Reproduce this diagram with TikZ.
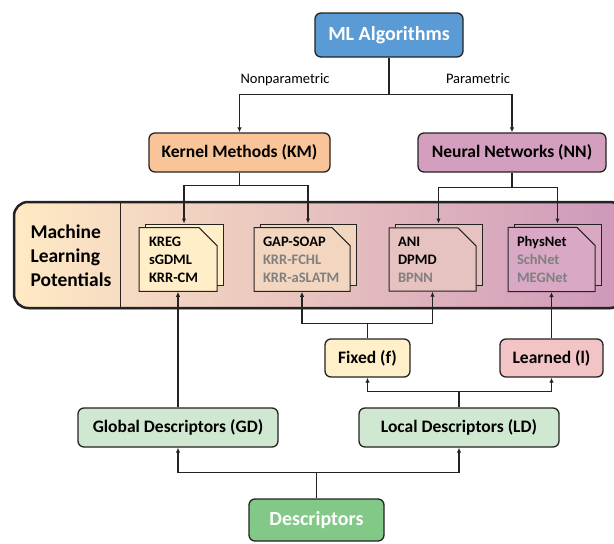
\documentclass[tikz,border=0pt]{standalone}
\usepackage{fontspec}
\setmainfont{Carlito}
\usetikzlibrary{shapes.misc,arrows.meta,shadows}

\definecolor{algblue}{RGB}{91,155,213}
\definecolor{kmorange}{RGB}{249,197,152}
\definecolor{nnpurple}{RGB}{212,158,190}
\definecolor{mlpleft}{RGB}{255,234,196}
\definecolor{mlpmid}{RGB}{238,208,192}
\definecolor{mlpright}{RGB}{206,152,186}
\definecolor{kregcol}{RGB}{255,238,200}
\definecolor{gapcol}{RGB}{242,214,192}
\definecolor{anicol}{RGB}{230,194,192}
\definecolor{physcol}{RGB}{216,168,196}
\definecolor{fixedcol}{RGB}{255,240,202}
\definecolor{learnedcol}{RGB}{242,196,198}
\definecolor{desclight}{RGB}{208,232,210}
\definecolor{descgreen}{RGB}{130,200,135}
\definecolor{edgecol}{RGB}{35,35,35}
\definecolor{greytext}{RGB}{128,128,128}

\begin{document}
\begin{tikzpicture}[x=1pt,y=-1pt,
  box/.style={draw=edgecol, line width=1.3pt, rounded corners=6pt, inner sep=0pt, font=\bfseries\fontsize{17.5}{20}\selectfont},
  bigbox/.style={box, text=white, font=\bfseries\fontsize{20}{24}\selectfont},
  doc/.style={chamfered rectangle, chamfered rectangle corners=north east, chamfered rectangle xsep=9pt, chamfered rectangle ysep=9pt, draw=edgecol, line width=1pt, inner sep=0pt, align=left, minimum height=61pt, font=\bfseries\fontsize{14.5}{18}\selectfont},
  arr/.style={-{Latex[length=5pt,width=4.5pt]}, line width=1.3pt, draw=edgecol},
  lbl/.style={font=\fontsize{14.5}{17}\selectfont}]
\useasboundingbox (0,0) rectangle (614,544);

% top of the tree
\node[bigbox, fill=algblue, minimum width=148pt, minimum height=44pt] (ml) at (389,35) {ML Algorithms};
\node[box, fill=kmorange, minimum width=181pt, minimum height=39pt] (km) at (239.5,152.5) {Kernel Methods (KM)};
\node[box, fill=nnpurple, minimum width=188pt, minimum height=39pt] (nn) at (512,152.5) {Neural Networks (NN)};
\node[lbl] (nonpar) at (285,80) {Nonparametric};
\node[lbl] (par) at (478,79) {Parametric};

% machine learning potentials band
\node[draw=edgecol, line width=2.5pt, rounded corners=14pt, left color=mlpleft, middle color=mlpmid, right color=mlpright,
  drop shadow={opacity=0.35, shadow xshift=1.5pt, shadow yshift=-1.5pt}, minimum width=610pt, minimum height=106pt] (mlp) at (319,255) {};
\draw[edgecol, line width=1.3pt] ([xshift=108pt]mlp.north west) -- ([xshift=108pt]mlp.south west);
\node[anchor=west, align=left, font=\bfseries\fontsize{19.5}{24}\selectfont] (mlptext) at (27,256) {Machine\\Learning\\Potentials};

\node[doc, fill=kregcol, minimum width=78pt] (kregb) at (184,254.5) {};
\node[doc, fill=kregcol, minimum width=78pt, text width=58pt] (kreg) at (178,259.5) {KREG\\sGDML\\KRR-CM};
\node[doc, fill=gapcol, minimum width=96pt] (gapb) at (308,254.5) {};
\node[doc, fill=gapcol, minimum width=96pt, text width=78pt] (gap) at (302,259.5) {GAP-SOAP\\{\color{greytext}KRR-FCHL}\\{\color{greytext}KRR-aSLATM}};
\node[doc, fill=anicol, minimum width=87pt] (anib) at (438.5,254.5) {};
\node[doc, fill=anicol, minimum width=87pt, text width=69pt] (ani) at (432.5,259.5) {ANI\\DPMD\\{\color{greytext}BPNN}};
\node[doc, fill=physcol, minimum width=87pt] (physb) at (557.5,254.5) {};
\node[doc, fill=physcol, minimum width=87pt, text width=69pt] (phys) at (551.5,259.5) {PhysNet\\{\color{greytext}SchNet}\\{\color{greytext}MEGNet}};

% descriptors
\node[box, fill=fixedcol, minimum width=85pt, minimum height=38pt] (fixed) at (367.5,358) {Fixed (f)};
\node[box, fill=learnedcol, minimum width=103pt, minimum height=38pt] (learned) at (551.5,358) {Learned (l)};
\node[box, fill=desclight, minimum width=200pt, minimum height=39pt] (gd) at (178,427.5) {Global Descriptors (GD)};
\node[box, fill=desclight, minimum width=200pt, minimum height=39pt] (ld) at (459,427.5) {Local Descriptors (LD)};
\node[bigbox, fill=descgreen, minimum width=135pt, minimum height=42pt] (desc) at (316.5,520) {Descriptors};

% connectors
\draw[arr] (ml.south) -- ++(0,37) -| (km.north);
\draw[arr] (ml.south) -- ++(0,37) -| (nn.north);
\draw[arr] (km.south) -- ++(0,13) -| (kregb.north);
\draw[arr] (km.south) -- ++(0,13) -| (gapb.north);
\draw[arr] (nn.south) -- ++(0,15) -| (anib.north);
\draw[arr] (nn.south) -- ++(0,15) -| (physb.north);
\draw[arr] (fixed.north) -- ++(0,-15) -| (gap.south);
\draw[arr] (fixed.north) -- ++(0,-15) -| (ani.south);
\draw[arr] (learned.north) -- (phys.south);
\draw[arr] (gd.north) -- (kreg.south);
\draw[arr] (ld.north) -- ++(0,-16) -| (fixed.south);
\draw[arr] (ld.north) -- ++(0,-16) -| (learned.south);
\draw[arr] (desc.north) -- ++(0,-26) -| (gd.south);
\draw[arr] (desc.north) -- ++(0,-26) -| (ld.south);
\end{tikzpicture}
\end{document}
